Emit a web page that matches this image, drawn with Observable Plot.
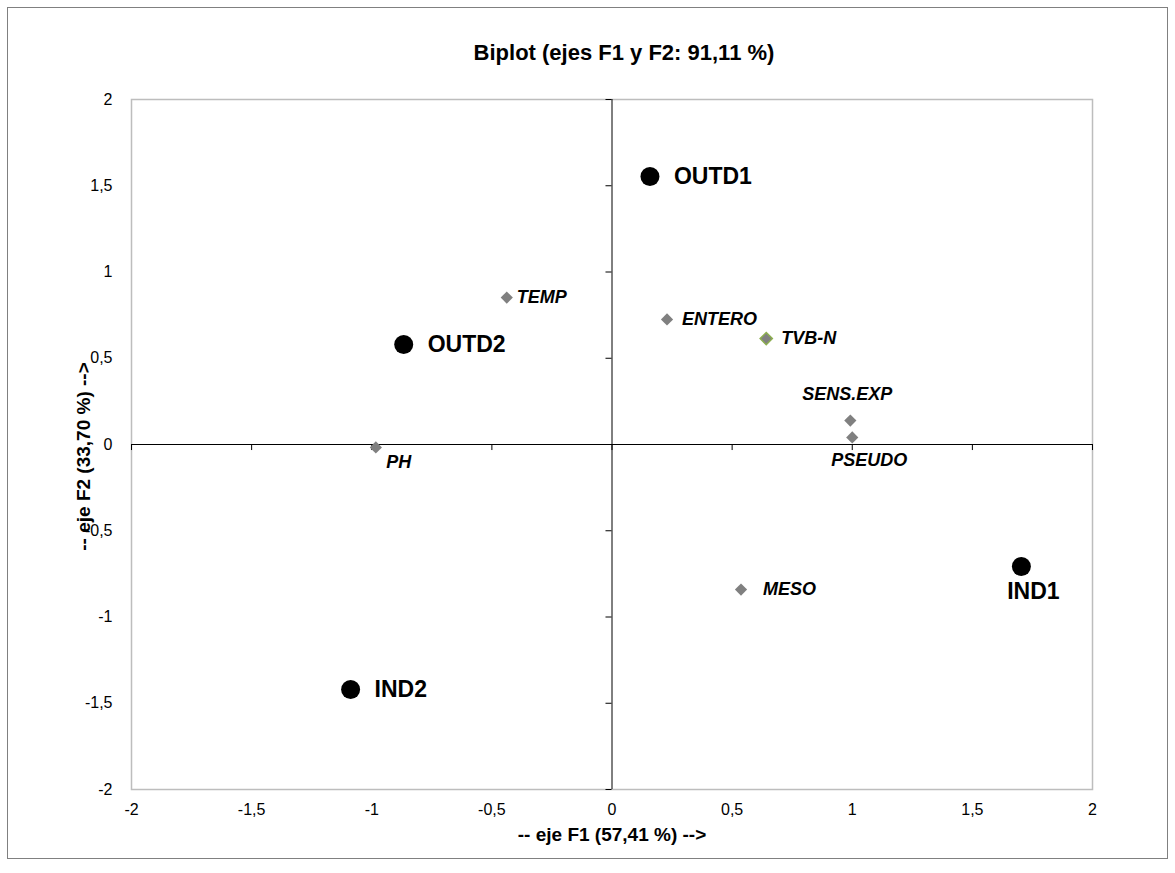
<!DOCTYPE html>
<html><head><meta charset="utf-8">
<script src="https://cdn.jsdelivr.net/npm/d3@7"></script>
<script src="https://cdn.jsdelivr.net/npm/@observablehq/plot@0.6"></script>
<style>
body{margin:0;background:#fff;font-family:"Liberation Sans",Arial,sans-serif;}
#wrap{position:relative;width:1175px;height:873px;}
#border{position:absolute;left:7px;top:7px;width:1159px;height:850px;border:1px solid #808080;}
#chart{position:absolute;left:0;top:0;}
</style></head>
<body><div id="wrap"><div id="border"></div><div id="chart"></div></div>
<script>
const title = "Biplot (ejes F1 y F2: 91,11 %)";
const xLabel = "-- eje F1 (57,41 %) -->";
const yLabel = "-- eje F2 (33,70 %) -->";
const ticks = [-2, -1.5, -1, -0.5, 0, 0.5, 1, 1.5, 2];

const obsNames = ["OUTD1", "OUTD2", "IND1", "IND2"];
const obsF1 = [0.158, -0.867, 1.704, -1.088];
const obsF2 = [1.554, 0.580, -0.707, -1.420];

const varNames = ["TEMP", "ENTERO", "TVB-N", "SENS.EXP", "PSEUDO", "PH", "MESO"];
const varF1 = [-0.438, 0.229, 0.642, 0.992, 1.0, -0.983, 0.537];
const varF2 = [0.852, 0.725, 0.614, 0.139, 0.041, -0.017, -0.841];

const obs = obsNames.map((n, i) => ({name: n, x: obsF1[i], y: obsF2[i]}));
const vars = varNames.map((n, i) => ({name: n, x: varF1[i], y: varF2[i]}));
const fmt = d => String(d).replace(".", ",");
const font = "Liberation Sans, Arial, sans-serif";

const varText = (names, opts) => Plot.text(vars.filter(d => names.includes(d.name)), {
  x: "x", y: "y", text: "name", fontSize: 18, fontWeight: "bold", fontStyle: "italic", fill: "#000", ...opts
});
const obsText = (names, opts) => Plot.text(obs.filter(d => names.includes(d.name)), {
  x: "x", y: "y", text: "name", fontSize: 23, fontWeight: "bold", fill: "#000", ...opts
});

const chart = Plot.plot({
  width: 1175, height: 873,
  marginLeft: 131, marginRight: 83, marginTop: 99, marginBottom: 84,
  style: {fontFamily: font, fontSize: "16px", background: "transparent", color: "#000"},
  x: {domain: [-2, 2], ticks, tickFormat: fmt, tickSize: 0, tickPadding: 14, label: null},
  y: {domain: [-2, 2], ticks, tickFormat: fmt, tickSize: 0, tickPadding: 19, label: null},
  marks: [
    Plot.frame({stroke: "#bdbdbd", strokeWidth: 1.5}),
    Plot.ruleX([0], {stroke: "#000", strokeWidth: 1}),
    Plot.ruleY([0], {stroke: "#000", strokeWidth: 1}),
    Plot.ruleY(ticks, {y: d => d, x1: -0.025, x2: 0, stroke: "#000"}),
    Plot.ruleX(ticks, {x: d => d, y1: 0, y2: -0.035, stroke: "#000"}),
    Plot.dot(vars, {x: "x", y: "y", symbol: "diamond2", r: 5.5, fill: "#808080",
      stroke: d => d.name === "TVB-N" ? "#8cae4f" : "none", strokeWidth: 1.5}),
    varText(["TEMP"], {textAnchor: "start", dx: 10}),
    varText(["ENTERO", "TVB-N"], {textAnchor: "start", dx: 15}),
    varText(["MESO"], {textAnchor: "start", dx: 22}),
    varText(["SENS.EXP"], {textAnchor: "middle", dx: -3, dy: -26}),
    varText(["PSEUDO"], {textAnchor: "middle", dx: 17, dy: 23}),
    varText(["PH"], {textAnchor: "middle", dx: 23, dy: 15}),
    Plot.dot(obs, {x: "x", y: "y", r: 9.5, fill: "#000", stroke: "none"}),
    obsText(["OUTD1", "OUTD2", "IND2"], {textAnchor: "start", dx: 24}),
    obsText(["IND1"], {textAnchor: "middle", dx: 12, dy: 25}),
    Plot.text([title], {frameAnchor: "top", lineAnchor: "middle", dy: -47, dx: 12, fontSize: 22, fontWeight: "bold"}),
    Plot.text([xLabel], {frameAnchor: "bottom", lineAnchor: "middle", dy: 45, fontSize: 19, fontWeight: "bold"}),
    Plot.text([yLabel], {frameAnchor: "left", textAnchor: "middle", lineAnchor: "middle", dx: -48, dy: 12, rotate: -90, fontSize: 19, fontWeight: "bold"})
  ]
});
document.getElementById("chart").appendChild(chart);
</script></body></html>
